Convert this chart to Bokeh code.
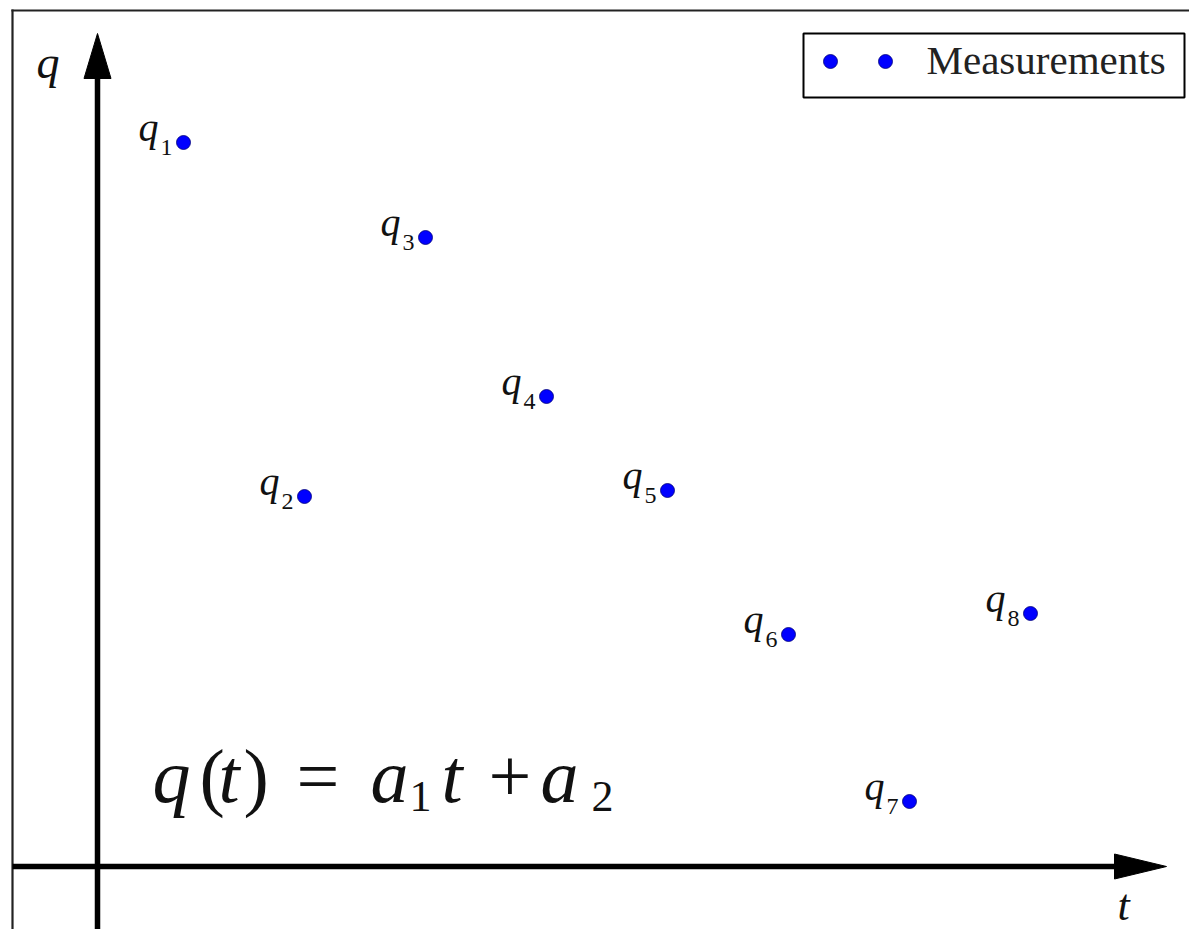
from bokeh.plotting import figure
from bokeh.models import Range1d
from bokeh.core.properties import value
from bokeh.embed import file_html
from bokeh.resources import INLINE

# Measured samples q_k at times t_k
times = [1, 2, 3, 4, 5, 6, 7, 8]
measurements = [7.24, 3.70, 6.29, 4.70, 3.76, 2.32, 0.65, 2.53]
subscripts = ["1", "2", "3", "4", "5", "6", "7", "8"]
legend_label = "Measurements"

# Model formula q(t) = a1 t + a2, split into (text, style, left pixel)
formula_parts = [
    ("q", "italic", 152), ("(", "normal", 199), ("t", "italic", 218),
    (")", "normal", 243), ("=", "normal", 296), ("a", "italic", 370),
    ("t", "italic", 441), ("+", "normal", 488), ("a", "italic", 540),
]
formula_subs = [("1", 409), ("2", 591)]

W, H = 1189, 929
PX_PER_T, PX_PER_Q = 121, 100     # pixels per data unit
T0_PX, Q0_PX = 62, 866            # pixel position of t = 0 and q = 0
BASE_SHIFT = 0.38                 # em correction for alphabetic baseline placement

def tx(px):
    return (px - T0_PX) / PX_PER_T

def qy(py):
    return (Q0_PX - py) / PX_PER_Q

def baseline(py, size):
    return qy(py - BASE_SHIFT * size)

SERIF = value("Liberation Serif")
INK = "#111111"

p = figure(width=W, height=H,
           x_range=Range1d(tx(0), tx(W)), y_range=Range1d(qy(H), qy(0)),
           x_axis_type=None, y_axis_type=None,
           toolbar_location=None, output_backend="svg",
           min_border=0, outline_line_color=None,
           background_fill_color="white", border_fill_color="white")

# frame border (top and left edges)
p.segment(x0=[tx(12), tx(12)], y0=[qy(10), qy(10)], x1=[tx(W + 10), tx(12)], y1=[qy(10), qy(H + 10)],
          line_color="#222222", line_width=2.2, line_cap="square")

# coordinate axes with arrow heads
t_axis = tx(97)
p.segment(x0=[t_axis], y0=[qy(H + 10)], x1=[t_axis], y1=[qy(77)],
          line_color="black", line_width=5.5, line_cap="butt")
p.patch(x=[t_axis, tx(83.5), tx(110.5)], y=[qy(33), qy(78), qy(78)],
        fill_color="black", line_color="black", line_width=1)
p.segment(x0=[tx(12)], y0=[0], x1=[tx(1116)], y1=[0],
          line_color="black", line_width=5.5, line_cap="butt")
p.patch(x=[tx(1166), tx(1114), tx(1114)], y=[0, qy(853.5), qy(878.5)],
        fill_color="black", line_color="black", line_width=1)

p.text(x=[tx(36)], y=[baseline(79, 46)], text=["q"], text_font=SERIF, text_font_style="italic",
       text_font_size="46px", text_align="left", text_baseline="alphabetic", text_color=INK)
p.text(x=[tx(1117)], y=[baseline(922, 44)], text=["t"], text_font=SERIF, text_font_style="italic",
       text_font_size="44px", text_align="left", text_baseline="alphabetic", text_color=INK)

# point labels q_k
p.text(x=times, y=measurements, text=["q"] * len(times), x_offset=-25, y_offset=0 - BASE_SHIFT * 40,
       text_font=SERIF, text_font_style="italic", text_font_size="40px",
       text_align="right", text_baseline="alphabetic", text_color=INK)
p.text(x=times, y=measurements, text=subscripts, x_offset=-11, y_offset=14 - BASE_SHIFT * 24,
       text_font=SERIF, text_font_size="24px",
       text_align="right", text_baseline="alphabetic", text_color=INK)

# measurement points
p.scatter(x=times, y=measurements, size=14, marker="circle",
          fill_color="#0000ff", line_color="#00007a", line_width=0.8)

# model formula
for txt, style, left in formula_parts:
    p.text(x=[tx(left)], y=[baseline(804, 76)], text=[txt], text_font=SERIF, text_font_style=style,
           text_font_size="76px", text_align="left", text_baseline="alphabetic", text_color=INK)
for txt, left in formula_subs:
    p.text(x=[tx(left)], y=[baseline(813, 44)], text=[txt], text_font=SERIF,
           text_font_size="44px", text_align="left", text_baseline="alphabetic", text_color=INK)

# legend
p.quad(left=[tx(803)], right=[tx(1184)], top=[qy(33)], bottom=[qy(97)],
       fill_color="white", line_color="black", line_width=2)
p.scatter(x=[tx(830), tx(885)], y=[qy(61), qy(61)], size=14, marker="circle",
          fill_color="#0000ff", line_color="#00007a", line_width=0.8)
p.text(x=[tx(926)], y=[baseline(75, 41)], text=[legend_label], text_font=SERIF,
       text_font_size="41px", text_align="left", text_baseline="alphabetic", text_color="#222222")

open("out.html", "w").write(file_html(p, INLINE))
